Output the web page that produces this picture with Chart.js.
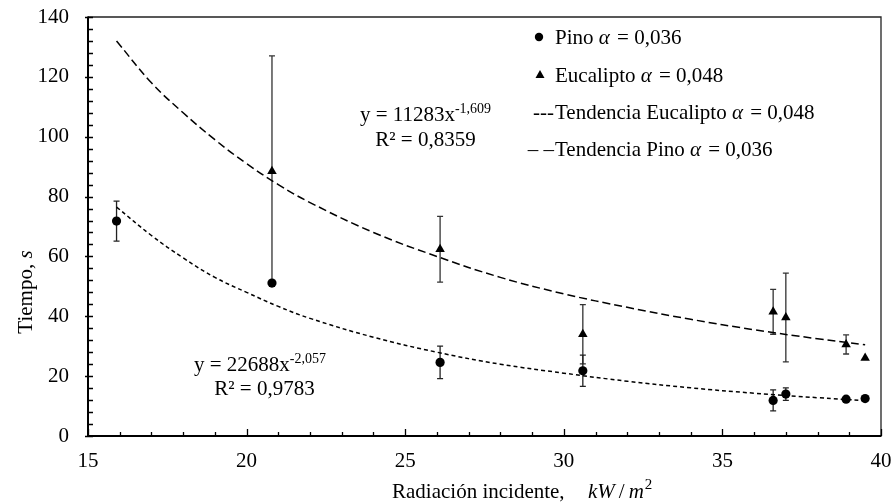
<!DOCTYPE html>
<html>
<head>
<meta charset="utf-8">
<script src="https://cdn.jsdelivr.net/npm/chart.js@4.4.1/dist/chart.umd.min.js"></script>
<style>
  html, body { margin: 0; padding: 0; background: #fff; }
  #wrap { width: 893px; height: 503px; position: relative; }
</style>
</head>
<body>
<div id="wrap"><canvas id="c" width="893" height="503"></canvas></div>
<script>
// ---- Data ----
const xPino   = [15.9, 20.8, 26.1, 30.6, 36.6, 37.0, 38.9, 39.5];
const yPino   = [71.8, 51.1, 24.6, 21.8, 11.9, 14.0, 12.3, 12.5];
const errPino = [6.7, 0, 5.4, 5.2, 3.5, 2.1, 0, 0];

const xEuc   = [20.8, 26.1, 30.6, 36.6, 37.0, 38.9, 39.5];
const yEuc   = [88.5, 62.4, 34.0, 41.5, 39.6, 30.6, 26.1];
const errEuc = [38.5, 11.0, 9.9, 7.5, 14.8, 3.2, 0];

// trend curves
const xTrend        = [15.9, 17, 18, 19, 20, 21, 22, 24, 26, 28, 30, 32, 34, 36, 38, 39.5];
const yTrendUpper   = [132, 118, 108, 99, 91, 84, 78, 68, 60, 53, 47.5, 43, 39, 35.5, 32.5, 30.5];
const yTrendLower   = [76.5, 67, 59.5, 53, 48, 43.3, 39.3, 33, 28, 24, 21, 18.3, 16.1, 14.3, 12.8, 11.8];

const xTicks = [15, 20, 25, 30, 35, 40];
const yTicks = [0, 20, 40, 60, 80, 100, 120, 140];

const legendLabels = ['Pino', 'Eucalipto', 'Tendencia Eucalipto', 'Tendencia Pino'];
const legendAlpha  = ['0,036', '0,048', '0,048', '0,036'];
const eqUpper = ['y = 11283x', '-1,609', 'R² = 0,8359'];
const eqLower = ['y = 22688x', '-2,057', 'R² = 0,9783'];
const xTitle = 'Radiación incidente,';
const yTitle = 'Tiempo, ';

const pts = (xs, ys) => xs.map((x, i) => ({ x: x, y: ys[i] }));
const SERIF = '"Liberation Serif", "Times New Roman", serif';

const errorBars = {
  id: 'errorBars',
  beforeDatasetsDraw(chart) {
    const { ctx, scales: { x, y } } = chart;
    ctx.save();
    ctx.lineWidth = 1.3;
    const draw = (xs, ys, es, color) => {
      ctx.strokeStyle = color;
      xs.forEach((xv, i) => {
        const e = es[i];
        if (!e) return;
        const px = x.getPixelForValue(xv);
        const top = y.getPixelForValue(ys[i] + e);
        const bot = y.getPixelForValue(ys[i] - e);
        ctx.beginPath();
        ctx.moveTo(px, top); ctx.lineTo(px, bot);
        ctx.moveTo(px - 3, top); ctx.lineTo(px + 3, top);
        ctx.moveTo(px - 3, bot); ctx.lineTo(px + 3, bot);
        ctx.stroke();
      });
    };
    draw(xEuc, yEuc, errEuc, '#333');
    draw(xPino, yPino, errPino, '#222');
    ctx.restore();
  }
};

const decorations = {
  id: 'decorations',
  afterDraw(chart) {
    const { ctx, chartArea: a, scales: { x, y } } = chart;
    ctx.save();
    // frame
    ctx.strokeStyle = '#222';
    ctx.lineWidth = 1.3;
    ctx.beginPath();
    ctx.moveTo(a.left, a.top); ctx.lineTo(a.right, a.top); ctx.lineTo(a.right, a.bottom);
    ctx.stroke();
    ctx.strokeStyle = '#000';
    ctx.lineWidth = 2;
    ctx.beginPath();
    ctx.moveTo(a.left, a.top - 0.5); ctx.lineTo(a.left, a.bottom); ctx.lineTo(a.right + 0.5, a.bottom);
    ctx.stroke();
    // inward ticks
    ctx.lineWidth = 1.3;
    ctx.beginPath();
    for (let v = 0; v <= 140; v += 4) {
      const py = Math.round(y.getPixelForValue(v)) + 0.5;
      const major = v % 20 === 0;
      ctx.moveTo(a.left - (major ? 3 : 0), py);
      ctx.lineTo(a.left + 5, py);
    }
    for (let v = 15; v <= 40; v += 1) {
      const px = Math.round(x.getPixelForValue(v)) + 0.5;
      const major = v % 5 === 0;
      ctx.moveTo(px, a.bottom);
      ctx.lineTo(px, a.bottom - (major ? 7 : 4));
    }
    ctx.stroke();

    ctx.fillStyle = '#000';
    ctx.textBaseline = 'alphabetic';

    // legend
    const rows = [37, 74.5, 111.5, 148.5];
    const tx = 555;
    rows.forEach((ry, i) => {
      const base = ry + 7;
      ctx.textAlign = 'left';
      if (i === 0) {
        ctx.beginPath(); ctx.arc(539, ry, 4.2, 0, Math.PI * 2); ctx.fill();
      } else if (i === 1) {
        ctx.beginPath(); ctx.moveTo(540, ry - 4.5); ctx.lineTo(544.5, ry + 3.5); ctx.lineTo(535.5, ry + 3.5); ctx.closePath(); ctx.fill();
      } else {
        ctx.font = '21px ' + SERIF;
        ctx.textAlign = 'right';
        ctx.fillText(i === 2 ? '---' : '– –', 554, base);
        ctx.textAlign = 'left';
      }
      ctx.font = '21px ' + SERIF;
      const lab = legendLabels[i] + ' ';
      ctx.fillText(lab, tx, base);
      let cx = tx + ctx.measureText(lab).width;
      ctx.font = 'italic 21px ' + SERIF;
      ctx.fillText('α', cx, base);
      cx += ctx.measureText('α').width;
      ctx.font = '21px ' + SERIF;
      ctx.fillText(' = ' + legendAlpha[i], cx + 2, base);
    });

    // equations
    const eq = (parts, c1, b1, c2, b2) => {
      ctx.font = '21px ' + SERIF;
      const w1 = ctx.measureText(parts[0]).width;
      ctx.font = '14px ' + SERIF;
      const w2 = ctx.measureText(parts[1]).width;
      let sx = c1 - (w1 + w2) / 2;
      ctx.font = '21px ' + SERIF;
      ctx.textAlign = 'left';
      ctx.fillText(parts[0], sx, b1);
      ctx.font = '14px ' + SERIF;
      ctx.fillText(parts[1], sx + w1, b1 - 8);
      ctx.font = '21px ' + SERIF;
      ctx.textAlign = 'center';
      ctx.fillText(parts[2], c2, b2);
    };
    eq(eqUpper, 425.5, 121, 425.5, 146);
    eq(eqLower, 260, 371, 264.5, 395);

    // x title
    ctx.textAlign = 'left';
    ctx.font = '21px ' + SERIF;
    ctx.fillText(xTitle, 392, 498);
    ctx.font = 'italic 21px ' + SERIF;
    ctx.fillText('kW', 588, 498);
    let mx = 588 + ctx.measureText('kW').width + 4;
    ctx.font = '21px ' + SERIF;
    ctx.fillText('/', mx, 498);
    mx += ctx.measureText('/').width + 4;
    ctx.font = 'italic 21px ' + SERIF;
    ctx.fillText('m', mx, 498);
    mx += ctx.measureText('m').width + 1;
    ctx.font = '15px ' + SERIF;
    ctx.fillText('2', mx, 489);

    // y title
    ctx.save();
    ctx.translate(32, 292);
    ctx.rotate(-Math.PI / 2);
    ctx.font = '21px ' + SERIF;
    const w1 = ctx.measureText(yTitle).width;
    ctx.font = 'italic 21px ' + SERIF;
    const w2 = ctx.measureText('s').width;
    const s0 = -(w1 + w2) / 2;
    ctx.font = '21px ' + SERIF;
    ctx.textAlign = 'left';
    ctx.fillText(yTitle, s0, 0);
    ctx.font = 'italic 21px ' + SERIF;
    ctx.fillText('s', s0 + w1, 0);
    ctx.restore();

    ctx.restore();
  }
};

new Chart(document.getElementById('c'), {
  type: 'scatter',
  data: {
    datasets: [
      {
        label: 'Pino α = 0,036',
        data: pts(xPino, yPino),
        pointStyle: 'circle', pointRadius: 4.6,
        backgroundColor: '#000', borderColor: '#000', borderWidth: 0,
        order: 1
      },
      {
        label: 'Eucalipto α = 0,048',
        data: pts(xEuc, yEuc),
        pointStyle: 'triangle', pointRadius: 5.5,
        backgroundColor: '#000', borderColor: '#000', borderWidth: 0,
        order: 1
      },
      {
        label: 'Tendencia Eucalipto α = 0,048',
        data: pts(xTrend, yTrendLower),
        showLine: true, pointRadius: 0, borderColor: '#000', borderWidth: 1.5,
        borderDash: [4, 3], tension: 0.4, fill: false,
        order: 2
      },
      {
        label: 'Tendencia Pino α = 0,036',
        data: pts(xTrend, yTrendUpper),
        showLine: true, pointRadius: 0, borderColor: '#000', borderWidth: 1.5,
        borderDash: [8, 4], tension: 0.4, fill: false,
        order: 2
      }
    ]
  },
  options: {
    responsive: false,
    animation: false,
    devicePixelRatio: 1,
    layout: { padding: { top: 17, right: 12, left: 0, bottom: 0 } },
    plugins: { legend: { display: false }, tooltip: { enabled: false } },
    scales: {
      x: {
        type: 'linear', min: 15, max: 40,
        afterBuildTicks: s => { s.ticks = xTicks.map(v => ({ value: v })); },
        afterFit: s => { s.height = 67; s.paddingLeft = 0; s.paddingRight = 0; },
        grid: { display: false, drawTicks: false },
        border: { display: false },
        ticks: { color: '#000', padding: 13, font: { family: SERIF, size: 21 } }
      },
      y: {
        type: 'linear', min: 0, max: 140,
        afterBuildTicks: s => { s.ticks = yTicks.map(v => ({ value: v })); },
        afterFit: s => { s.width = 88; s.paddingTop = 0; s.paddingBottom = 0; },
        grid: { display: false, drawTicks: false },
        border: { display: false },
        ticks: { color: '#000', padding: 19, font: { family: SERIF, size: 21 } }
      }
    }
  },
  plugins: [errorBars, decorations]
});
</script>
</body>
</html>
